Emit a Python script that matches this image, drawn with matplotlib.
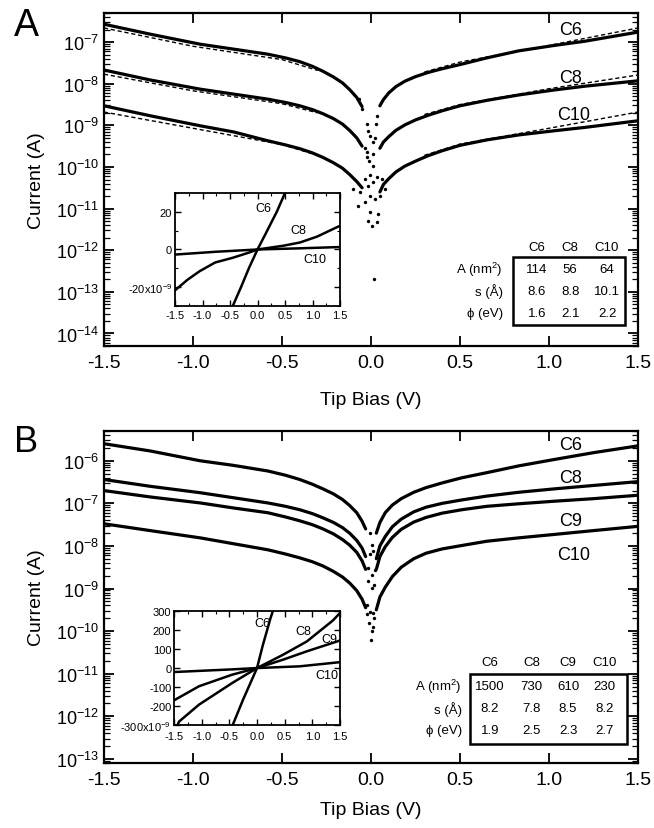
import matplotlib
matplotlib.use("Agg")
import matplotlib.pyplot as plt
import numpy as np
from matplotlib.patches import Rectangle
from matplotlib.ticker import LogLocator, MultipleLocator, NullFormatter, FixedLocator

plt.rcParams['font.family'] = ['Liberation Sans', 'DejaVu Sans']
plt.rcParams['mathtext.fontset'] = 'custom'
plt.rcParams['mathtext.rm'] = 'Liberation Sans'
plt.rcParams['mathtext.it'] = 'Liberation Sans:italic'
plt.rcParams['mathtext.default'] = 'regular'
plt.rcParams['axes.unicode_minus'] = False

# ---------------- panel A (log10 of current, A) ----------------
va_left = [-1.5, -1.24, -0.96, -0.77, -0.58, -0.48, -0.40, -0.33, -0.27, -0.21, -0.16, -0.12, -0.08, -0.05]
a_c6_left = [-6.57, -6.81, -7.05, -7.17, -7.29, -7.38, -7.47, -7.58, -7.70, -7.84, -7.98, -8.14, -8.33, -8.55]
a_c8_left = [-7.67, -7.91, -8.13, -8.25, -8.37, -8.45, -8.53, -8.62, -8.72, -8.84, -8.97, -9.12, -9.30, -9.50]
a_c10_left = [-8.53, -8.77, -9.01, -9.16, -9.37, -9.47, -9.56, -9.66, -9.77, -9.90, -10.03, -10.18, -10.35, -10.50]

va_right = [0.05, 0.07, 0.10, 0.14, 0.19, 0.25, 0.32, 0.40, 0.50, 0.65, 0.83, 1.03, 1.20, 1.50]
a_c6_right = [-8.53, -8.38, -8.22, -8.07, -7.94, -7.83, -7.73, -7.64, -7.54, -7.38, -7.21, -7.08, -6.98, -6.76]
a_c8_right = [-9.55, -9.40, -9.27, -9.12, -8.99, -8.87, -8.76, -8.65, -8.53, -8.40, -8.27, -8.15, -8.06, -7.93]
a_c10_right = [-10.60, -10.42, -10.28, -10.12, -9.98, -9.86, -9.73, -9.61, -9.48, -9.35, -9.23, -9.13, -9.05, -8.89]

# fits (dashed)
fit_v_left = [-1.5, -1.0, -0.5, -0.3]
fit_v_right = [0.3, 0.5, 1.0, 1.5]
fit_c6_left = [-6.66, -7.10, -7.42, -7.68]
fit_c6_right = [-7.72, -7.48, -7.08, -6.66]
fit_c8_left = [-7.77, -8.17, -8.48, -8.70]
fit_c8_right = [-8.74, -8.50, -8.12, -7.79]
fit_c10_left = [-8.68, -9.07, -9.46, -9.72]
fit_c10_right = [-9.72, -9.45, -9.07, -8.68]

# scattered points around zero bias
dip_a_v = [-0.07, -0.05, -0.024, -0.015, -0.006, 0.032, 0.028, 0.013, -0.024, -0.01,
           0.013, -0.006, -0.034, -0.015, 0.013, 0.032, -0.10, -0.062, -0.006, 0.022,
           -0.071, -0.034, 0.05, 0.079, -0.006, -0.015, 0.032, 0.004, 0.017, 0.041,
           -0.035, -0.02, 0.01, 0.02, 0.06]
dip_a_log = [-8.37, -8.60, -8.97, -9.13, -9.25, -8.77, -8.97, -9.40, -9.65, -9.85,
             -9.97, -10.20, -10.29, -10.45, -10.37, -10.24, -10.53, -10.60, -10.69, -10.77,
             -10.93, -10.84, -10.69, -10.53, -11.08, -11.29, -11.32, -11.41, -12.68, -11.12,
             -9.55, -9.75, -9.70, -9.30, -10.30]

# ---------------- panel B ----------------
vb_left = [-1.5, -1.24, -0.96, -0.77, -0.58, -0.48, -0.40, -0.33, -0.27, -0.21, -0.16, -0.12, -0.08, -0.05, -0.03]
b_c6_left = [-5.60, -5.77, -6.00, -6.11, -6.24, -6.34, -6.44, -6.55, -6.66, -6.78, -6.91, -7.05, -7.22, -7.42, -7.60]
b_c8_left = [-6.44, -6.60, -6.75, -6.87, -6.99, -7.07, -7.15, -7.24, -7.34, -7.45, -7.57, -7.70, -7.87, -8.05, -8.25]
b_c9_left = [-6.70, -6.85, -6.99, -7.11, -7.22, -7.32, -7.41, -7.50, -7.60, -7.72, -7.85, -7.98, -8.15, -8.35, -8.55]
b_c10_left = [-7.48, -7.64, -7.81, -7.95, -8.09, -8.19, -8.28, -8.37, -8.47, -8.60, -8.73, -8.87, -9.05, -9.25, -9.45]

vb_right = [0.03, 0.05, 0.08, 0.12, 0.17, 0.24, 0.31, 0.40, 0.51, 0.65, 0.83, 1.03, 1.25, 1.5]
b_c6_right = [-7.70, -7.45, -7.22, -7.04, -6.89, -6.74, -6.63, -6.52, -6.40, -6.28, -6.12, -5.97, -5.81, -5.65]
b_c8_right = [-8.30, -8.00, -7.78, -7.55, -7.37, -7.20, -7.09, -7.00, -6.92, -6.83, -6.74, -6.66, -6.58, -6.49]
b_c9_right = [-8.55, -8.25, -8.02, -7.80, -7.61, -7.44, -7.33, -7.23, -7.15, -7.07, -7.01, -6.95, -6.89, -6.81]
b_c10_right = [-9.50, -9.20, -8.97, -8.72, -8.50, -8.30, -8.17, -8.07, -7.99, -7.89, -7.81, -7.73, -7.64, -7.54]

dip_b_v = [-0.006, 0.004, -0.006, 0.013, -0.015, 0.004, 0.022, -0.015, 0.004, 0.017,
           -0.024, -0.006, 0.013, -0.01, 0.005, 0.0, 0.01, -0.02, 0.015]
dip_b_log = [-7.69, -7.97, -8.20, -8.12, -8.52, -8.68, -8.56, -8.83, -8.99, -8.91,
             -9.38, -9.54, -9.58, -9.80, -10.00, -10.20, -9.90, -9.60, -9.70]

# ---------------- insets (nA) ----------------
ia_c6_v = [-0.48, -0.45, -0.30, -0.15, 0.0, 0.15, 0.35, 0.50, 0.53]
ia_c6_i = [-32, -30, -20, -9.5, 0, 8.5, 20, 30, 32]
ia_c8_v = [-1.5, -1.27, -1.05, -0.77, -0.45, -0.15, 0.0, 0.47, 0.77, 1.08, 1.5]
ia_c8_i = [-21.7, -16.0, -11.5, -6.9, -4.4, -1.6, 0, 2.0, 3.7, 6.8, 12.6]
ia_c10_v = [-1.5, -0.75, 0.0, 0.75, 1.5]
ia_c10_i = [-2.7, -1.2, 0, 0.6, 1.3]

ib_c6_v = [-0.47, -0.44, -0.25, 0.0, 0.10, 0.24, 0.32]
ib_c6_i = [-330, -300, -165, 0, 115, 259, 330]
ib_c8_v = [-1.45, -1.41, -1.05, -0.45, 0.0, 0.47, 0.90, 1.37, 1.5]
ib_c8_i = [-310, -282, -193, -79, 0, 70, 140, 250, 290]
ib_c9_v = [-1.5, -1.05, -0.45, 0.0, 0.47, 0.90, 1.5]
ib_c9_i = [-170, -96, -35, 0, 44, 88, 145]
ib_c10_v = [-1.5, -0.45, 0.0, 0.77, 1.5]
ib_c10_i = [-21, -7, 0, 9, 31]

# tables
cols_a = ['C6', 'C8', 'C10']
rows_a = [['114', '56', '64'], ['8.6', '8.8', '10.1'], ['1.6', '2.1', '2.2']]
cols_b = ['C6', 'C8', 'C9', 'C10']
rows_b = [['1500', '730', '610', '230'], ['8.2', '7.8', '8.5', '8.2'], ['1.9', '2.5', '2.3', '2.7']]
row_names = ['A (nm$^2$)', 's (\u00c5)', '\u03d5 (eV)']

xticks = [-1.5, -1.0, -0.5, 0.0, 0.5, 1.0, 1.5]


def pw(a):
    return np.power(10.0, np.asarray(a))


def style_main(ax, ylim, xlabelpad):
    ax.set_yscale('log')
    ax.set_xlim(-1.5, 1.5)
    ax.set_ylim(*ylim)
    ax.set_xticks(xticks)
    ax.set_xticklabels(['%.1f' % t for t in xticks])
    ax.yaxis.set_major_locator(LogLocator(base=10, numticks=30))
    ax.yaxis.set_minor_locator(LogLocator(base=10, subs=np.arange(2, 10), numticks=30))
    ax.yaxis.set_minor_formatter(NullFormatter())
    ax.tick_params(which='both', direction='in', top=True, right=True)
    ax.tick_params(which='major', length=7, width=1.3)
    ax.tick_params(which='minor', length=4, width=0.9)
    ax.tick_params(axis='x', labelsize=14, pad=6)
    ax.tick_params(axis='y', labelsize=13)
    for s in ax.spines.values():
        s.set_linewidth(1.6)
    ax.set_xlabel('Tip Bias (V)', fontsize=14, labelpad=xlabelpad)
    ax.set_ylabel('Current (A)', fontsize=14, labelpad=8)


def style_inset(ax, ylim, yt, ylabels, yminor, xpad):
    ax.set_xlim(-1.5, 1.5)
    ax.set_ylim(*ylim)
    ax.set_xticks(xticks)
    ax.set_xticklabels(['%.1f' % t for t in xticks])
    ax.xaxis.set_minor_locator(MultipleLocator(0.25))
    ax.set_yticks(yt)
    ax.set_yticklabels(ylabels)
    if yminor:
        ax.yaxis.set_minor_locator(FixedLocator(yminor))
    ax.tick_params(which='both', direction='in', top=True, right=True, labelsize=8, pad=2)
    ax.tick_params(axis='x', pad=xpad)
    ax.tick_params(which='major', length=4, width=1)
    ax.tick_params(which='minor', length=2.5, width=0.8)
    for s in ax.spines.values():
        s.set_linewidth(1.3)
    ax.set_facecolor('white')


def table(ax, x0, x1, y0, y1, head_y, row_y, col_x, label_x, cols, rows):
    ax.add_patch(Rectangle((x0, y0), x1 - x0, y1 - y0, transform=ax.transAxes,
                           fill=False, lw=1.8, color='black', zorder=5))
    for cx, c in zip(col_x, cols):
        ax.text(cx, head_y, c, transform=ax.transAxes, ha='center', va='center', fontsize=9.5)
    for ry, name, vals in zip(row_y, row_names, rows):
        ax.text(label_x, ry, name, transform=ax.transAxes, ha='right', va='center', fontsize=9.5)
        for cx, v in zip(col_x, vals):
            ax.text(cx, ry, v, transform=ax.transAxes, ha='center', va='center', fontsize=9.5)


fig = plt.figure(figsize=(6.54, 8.29), dpi=100)
axA = fig.add_axes([0.159, 0.5814, 0.8165, 0.4017])
axB = fig.add_axes([0.159, 0.0784, 0.8165, 0.4005])

lw = 2.3
kw = dict(color='black', lw=lw, solid_joinstyle='round', solid_capstyle='round')
# panel A
for left, right in [(a_c6_left, a_c6_right), (a_c8_left, a_c8_right), (a_c10_left, a_c10_right)]:
    axA.plot(va_left, pw(left), **kw)
    axA.plot(va_right, pw(right), **kw)
for left, right in [(fit_c6_left, fit_c6_right), (fit_c8_left, fit_c8_right), (fit_c10_left, fit_c10_right)]:
    axA.plot(fit_v_left, pw(left), color='black', lw=1.0, ls=(0, (3, 2)))
    axA.plot(fit_v_right, pw(right), color='black', lw=1.0, ls=(0, (3, 2)))
axA.scatter(dip_a_v, pw(dip_a_log), s=6, color='black', lw=0)
style_main(axA, (5e-15, 5e-7), 14)
axA.text(1.12, pw(-6.69), 'C6', fontsize=13, ha='center', va='center')
axA.text(1.12, pw(-7.84), 'C8', fontsize=13, ha='center', va='center')
axA.text(1.14, pw(-8.73), 'C10', fontsize=13, ha='center', va='center')
table(axA, 0.766, 0.976, 0.063, 0.267, 0.297, [0.231, 0.166, 0.100],
      [0.811, 0.873, 0.942], 0.747, cols_a, rows_a)

# panel B
for left, right in [(b_c6_left, b_c6_right), (b_c8_left, b_c8_right),
                    (b_c9_left, b_c9_right), (b_c10_left, b_c10_right)]:
    axB.plot(vb_left, pw(left), **kw)
    axB.plot(vb_right, pw(right), **kw)
axB.scatter(dip_b_v, pw(dip_b_log), s=6, color='black', lw=0)
style_main(axB, (8e-14, 5e-6), 9)
axB.text(1.12, pw(-5.62), 'C6', fontsize=13, ha='center', va='center')
axB.text(1.12, pw(-6.40), 'C8', fontsize=13, ha='center', va='center')
axB.text(1.12, pw(-7.41), 'C9', fontsize=13, ha='center', va='center')
axB.text(1.14, pw(-8.21), 'C10', fontsize=13, ha='center', va='center')
table(axB, 0.685, 0.979, 0.057, 0.268, 0.304, [0.232, 0.165, 0.100],
      [0.723, 0.801, 0.869, 0.938], 0.670, cols_b, rows_b)

# insets
insA = fig.add_axes([0.2676, 0.6297, 0.2523, 0.1363])
insA.plot(ia_c6_v, ia_c6_i, color='black', lw=1.8)
insA.plot(ia_c8_v, ia_c8_i, color='black', lw=1.8)
insA.plot(ia_c10_v, ia_c10_i, color='black', lw=1.8)
style_inset(insA, (-30, 30), [-20, 0, 20], ['-20x10$^{-9}$', '0', '20'], [-30, -10, 10, 30], 3)
insA.text(0.10, 21.9, 'C6', fontsize=9, ha='center', va='center')
insA.text(0.74, 10.1, 'C8', fontsize=9, ha='center', va='center')
insA.text(1.05, -5.3, 'C10', fontsize=9, ha='center', va='center')

insB = fig.add_axes([0.2661, 0.1242, 0.2538, 0.1375])
insB.plot(ib_c6_v, ib_c6_i, color='black', lw=1.8)
insB.plot(ib_c8_v, ib_c8_i, color='black', lw=1.8)
insB.plot(ib_c9_v, ib_c9_i, color='black', lw=1.8)
insB.plot(ib_c10_v, ib_c10_i, color='black', lw=1.8)
style_inset(insB, (-300, 300), [-300, -200, -100, 0, 100, 200, 300],
            ['-300x10$^{-9}$', '-200', '-100', '0', '100', '200', '300'], None, 4.5)
insB.text(0.10, 238, 'C6', fontsize=9, ha='center', va='center')
insB.text(0.83, 193, 'C8', fontsize=9, ha='center', va='center')
insB.text(1.30, 154, 'C9', fontsize=9, ha='center', va='center')
insB.text(1.27, -39, 'C10', fontsize=9, ha='center', va='center')

fig.text(0.022, 0.99, 'A', fontsize=27, va='top', ha='left')
fig.text(0.022, 0.487, 'B', fontsize=26, va='top', ha='left')

fig.savefig('out.png', dpi=100)
